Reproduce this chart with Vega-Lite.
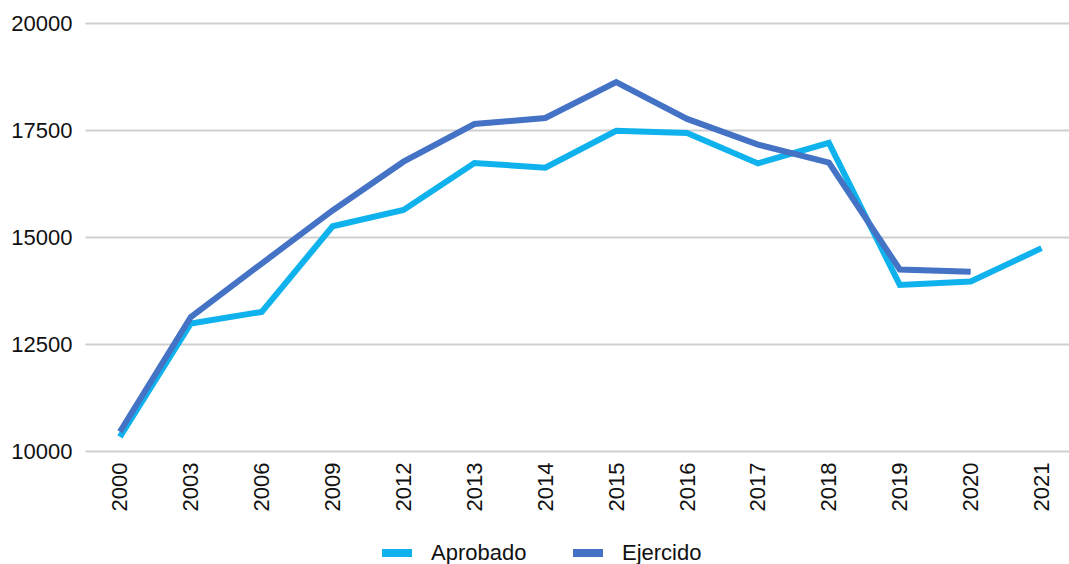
{
  "$schema": "https://vega.github.io/schema/vega-lite/v6.json",
  "autosize": "none",
  "width": 984,
  "height": 428,
  "padding": {"left": 85, "top": 23, "right": 0, "bottom": 113},
  "background": "white",
  "config": {
    "font": "Liberation Sans",
    "view": {"stroke": null}
  },
  "data": {
    "values": [
      {"year": "2000", "serie": "Aprobado", "value": 10330},
      {"year": "2003", "serie": "Aprobado", "value": 12980},
      {"year": "2006", "serie": "Aprobado", "value": 13250},
      {"year": "2009", "serie": "Aprobado", "value": 15250},
      {"year": "2012", "serie": "Aprobado", "value": 15630},
      {"year": "2013", "serie": "Aprobado", "value": 16730},
      {"year": "2014", "serie": "Aprobado", "value": 16620},
      {"year": "2015", "serie": "Aprobado", "value": 17480},
      {"year": "2016", "serie": "Aprobado", "value": 17430},
      {"year": "2017", "serie": "Aprobado", "value": 16720},
      {"year": "2018", "serie": "Aprobado", "value": 17200},
      {"year": "2019", "serie": "Aprobado", "value": 13880},
      {"year": "2020", "serie": "Aprobado", "value": 13960},
      {"year": "2021", "serie": "Aprobado", "value": 14740},
      {"year": "2000", "serie": "Ejercido", "value": 10450},
      {"year": "2003", "serie": "Ejercido", "value": 13130},
      {"year": "2006", "serie": "Ejercido", "value": 14380},
      {"year": "2009", "serie": "Ejercido", "value": 15620},
      {"year": "2012", "serie": "Ejercido", "value": 16760},
      {"year": "2013", "serie": "Ejercido", "value": 17640},
      {"year": "2014", "serie": "Ejercido", "value": 17780},
      {"year": "2015", "serie": "Ejercido", "value": 18620},
      {"year": "2016", "serie": "Ejercido", "value": 17760},
      {"year": "2017", "serie": "Ejercido", "value": 17160},
      {"year": "2018", "serie": "Ejercido", "value": 16740},
      {"year": "2019", "serie": "Ejercido", "value": 14240},
      {"year": "2020", "serie": "Ejercido", "value": 14190}
    ]
  },
  "mark": {"type": "line", "strokeWidth": 6, "strokeJoin": "miter", "strokeCap": "butt"},
  "encoding": {
    "x": {
      "field": "year",
      "type": "ordinal",
      "scale": {"type": "point", "padding": 0.44, "align": 0.56},
      "axis": {
        "title": null,
        "labelAngle": -90,
        "labelAlign": "right",
        "labelBaseline": "middle",
        "labelFontSize": 22,
        "labelColor": "#111",
        "labelPadding": 11,
        "ticks": false,
        "domain": false,
        "grid": false
      }
    },
    "y": {
      "field": "value",
      "type": "quantitative",
      "scale": {"domain": [10000, 20000], "nice": false, "zero": false},
      "axis": {
        "title": null,
        "values": [10000, 12500, 15000, 17500, 20000],
        "format": "d",
        "labelFontSize": 22,
        "labelColor": "#111",
        "labelPadding": 13,
        "ticks": false,
        "domain": false,
        "grid": true,
        "gridColor": "#cfcfcf",
        "gridWidth": 2
      }
    },
    "color": {
      "field": "serie",
      "type": "nominal",
      "scale": {"domain": ["Aprobado", "Ejercido"], "range": ["#0FB2EC", "#4472C4"]},
      "legend": {
        "title": null,
        "orient": "none",
        "direction": "horizontal",
        "padding": 0,
        "legendX": 293,
        "legendY": 511,
        "symbolType": "stroke",
        "symbolSize": 900,
        "symbolStrokeWidth": 8,
        "labelFontSize": 22,
        "labelColor": "#111",
        "labelOffset": 15,
        "columnPadding": 30
      }
    }
  }
}
